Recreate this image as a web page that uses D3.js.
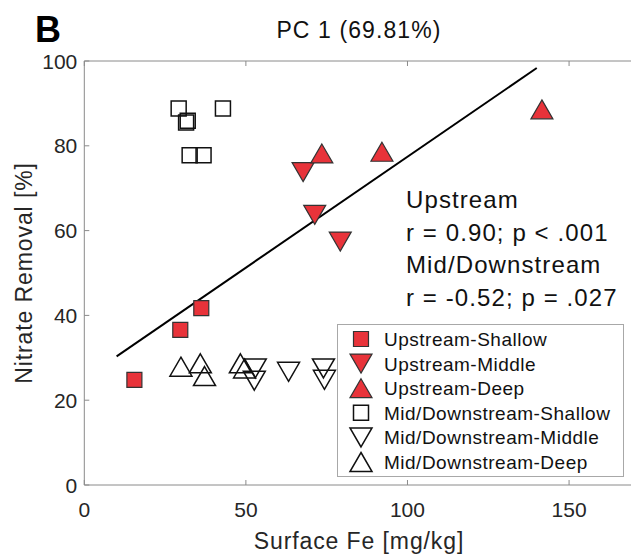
<!DOCTYPE html>
<html>
<head>
<meta charset="utf-8">
<script src="https://cdn.jsdelivr.net/npm/d3@7"></script>
<style>
  html, body { margin: 0; padding: 0; background: #fff; overflow: hidden; }
  svg { display: block; font-family: "Liberation Sans", Arial, Helvetica, sans-serif; }
</style>
</head>
<body>
<svg id="chart" width="631" height="558"></svg>
<script>
// Surface Fe [mg/kg] vs nitrate removal [%], one array of [x, y] pairs per group
const upShallow = [[15.5, 24.8], [29.7, 36.6], [36.2, 41.7]];
const upMiddle  = [[67.7, 73.8], [71.3, 63.7], [79.2, 57.4]];
const upDeep    = [[73.5, 78.2], [92.1, 78.6], [141.6, 88.6]];
const mdShallow = [[29.2, 88.8], [31.5, 85.5], [32.0, 85.9], [42.9, 88.8], [32.6, 77.8], [36.9, 77.8]];
const mdMiddle  = [[52.9, 27.5], [52.6, 24.6], [63.2, 26.7], [74.0, 27.5], [74.3, 24.8]];
const mdDeep    = [[29.9, 27.9], [35.9, 28.7], [37.2, 25.7], [48.3, 28.7], [49.6, 27.5]];

const xTicks = [0, 50, 100, 150];
const yTicks = [0, 20, 40, 60, 80, 100];
const fitRange = [10, 140];

const legendLabels = ["Upstream-Shallow", "Upstream-Middle", "Upstream-Deep",
                      "Mid/Downstream-Shallow", "Mid/Downstream-Middle", "Mid/Downstream-Deep"];
const statLines = ["Upstream", "r = 0.90; p < .001", "Mid/Downstream", "r = -0.52; p = .027"];

const RED = "#e8333a";
const TXT = "#262626";
const AX = "#8a8a8a";

const svg = d3.select("#chart");
const x = d3.scaleLinear().domain([0, 170]).range([84.3, 633.7]);
const y = d3.scaleLinear().domain([0, 100]).range([485, 61]);

// marker path generators centred on (cx, cy)
function squarePath(cx, cy, s) {
  const h = s / 2;
  return `M${cx - h},${cy - h}H${cx + h}V${cy + h}H${cx - h}Z`;
}
function triPath(cx, cy, w, h, up) {
  const hw = w / 2, hh = h / 2;
  return up
    ? `M${cx},${cy - hh}L${cx + hw},${cy + hh}L${cx - hw},${cy + hh}Z`
    : `M${cx},${cy + hh}L${cx + hw},${cy - hh}L${cx - hw},${cy - hh}Z`;
}
const SQ = 15, TW = 22, TH = 19;

// axes frame: bottom, top, left
const g = svg.append("g");
g.append("line").attr("x1", x(0)).attr("x2", x(170)).attr("y1", y(0)).attr("y2", y(0)).attr("stroke", AX);
g.append("line").attr("x1", x(0)).attr("x2", x(170)).attr("y1", y(100)).attr("y2", y(100)).attr("stroke", AX);
g.append("line").attr("x1", x(0)).attr("x2", x(0)).attr("y1", y(0)).attr("y2", y(100)).attr("stroke", AX);

// inward ticks
const TL = 5;
xTicks.forEach(t => {
  g.append("line").attr("x1", x(t)).attr("x2", x(t)).attr("y1", y(0)).attr("y2", y(0) - TL).attr("stroke", AX);
  g.append("line").attr("x1", x(t)).attr("x2", x(t)).attr("y1", y(100)).attr("y2", y(100) + TL).attr("stroke", AX);
  g.append("text").attr("x", x(t)).attr("y", y(0) + 32).attr("text-anchor", "middle")
    .attr("font-size", 21).attr("fill", TXT).text(t);
});
yTicks.forEach(t => {
  g.append("line").attr("x1", x(0)).attr("x2", x(0) + TL).attr("y1", y(t)).attr("y2", y(t)).attr("stroke", AX);
  g.append("text").attr("x", x(0) - 7).attr("y", y(t) + 7.5).attr("text-anchor", "end")
    .attr("font-size", 21).attr("fill", TXT).text(t);
});

// axis titles
svg.append("text").attr("x", (x(0) + x(170)) / 2).attr("y", 549).attr("text-anchor", "middle")
  .attr("font-size", 23).attr("letter-spacing", 0.9).attr("fill", TXT).text("Surface Fe [mg/kg]");
svg.append("text").attr("transform", `translate(32,${(y(0) + y(100)) / 2}) rotate(-90)`)
  .attr("text-anchor", "middle").attr("font-size", 23).attr("letter-spacing", 0.9)
  .attr("fill", TXT).text("Nitrate Removal [%]");

// title and panel letter
svg.append("text").attr("x", (x(0) + x(170)) / 2).attr("y", 38).attr("text-anchor", "middle")
  .attr("font-size", 23).attr("letter-spacing", 1.1).attr("fill", "#111").text("PC 1 (69.81%)");
svg.append("text").attr("x", 35).attr("y", 42).attr("font-size", 36).attr("font-weight", "bold")
  .attr("fill", "#000").text("B");

// least-squares fit through the upstream samples
const upAll = upShallow.concat(upMiddle, upDeep);
const mx = d3.mean(upAll, d => d[0]), my = d3.mean(upAll, d => d[1]);
const slope = d3.sum(upAll, d => (d[0] - mx) * (d[1] - my)) / d3.sum(upAll, d => (d[0] - mx) ** 2);
const icpt = my - slope * mx;
svg.append("line")
  .attr("x1", x(fitRange[0])).attr("y1", y(icpt + slope * fitRange[0]))
  .attr("x2", x(fitRange[1])).attr("y2", y(icpt + slope * fitRange[1]))
  .attr("stroke", "#000").attr("stroke-width", 2);

// open markers (mid/downstream)
const pts = svg.append("g");
mdShallow.forEach(d => pts.append("path").attr("d", squarePath(x(d[0]), y(d[1]), SQ))
  .attr("fill", "none").attr("stroke", "#111").attr("stroke-width", 1.5));
mdMiddle.forEach(d => pts.append("path").attr("d", triPath(x(d[0]), y(d[1]), TW, TH, false))
  .attr("fill", "none").attr("stroke", "#111").attr("stroke-width", 1.5));
mdDeep.forEach(d => pts.append("path").attr("d", triPath(x(d[0]), y(d[1]), TW, TH, true))
  .attr("fill", "none").attr("stroke", "#111").attr("stroke-width", 1.5));

// filled markers (upstream)
upShallow.forEach(d => pts.append("path").attr("d", squarePath(x(d[0]), y(d[1]), SQ))
  .attr("fill", RED).attr("stroke", "#333").attr("stroke-width", 1.2));
upMiddle.forEach(d => pts.append("path").attr("d", triPath(x(d[0]), y(d[1]), TW, TH, false))
  .attr("fill", RED).attr("stroke", "#333").attr("stroke-width", 1.2));
upDeep.forEach(d => pts.append("path").attr("d", triPath(x(d[0]), y(d[1]), TW, TH, true))
  .attr("fill", RED).attr("stroke", "#333").attr("stroke-width", 1.2));

// correlation statistics
statLines.forEach((s, i) => {
  svg.append("text").attr("x", 406).attr("y", 208 + i * 32.5).attr("font-size", 24)
    .attr("letter-spacing", 1.1).attr("fill", "#111").text(s);
});

// legend
const lg = svg.append("g");
lg.append("rect").attr("x", 337.5).attr("y", 324.5).attr("width", 286).attr("height", 152)
  .attr("fill", "#fff").attr("stroke", "#a8a8a8");
const rowY = i => 339 + i * 24.6;
const mkX = 361;
lg.append("path").attr("d", squarePath(mkX, rowY(0), SQ)).attr("fill", RED).attr("stroke", "#333").attr("stroke-width", 1.2);
lg.append("path").attr("d", triPath(mkX, rowY(1), TW, TH, false)).attr("fill", RED).attr("stroke", "#333").attr("stroke-width", 1.2);
lg.append("path").attr("d", triPath(mkX, rowY(2), TW, TH, true)).attr("fill", RED).attr("stroke", "#333").attr("stroke-width", 1.2);
lg.append("path").attr("d", squarePath(mkX, rowY(3), SQ)).attr("fill", "none").attr("stroke", "#111").attr("stroke-width", 1.5);
lg.append("path").attr("d", triPath(mkX, rowY(4), TW, TH, false)).attr("fill", "none").attr("stroke", "#111").attr("stroke-width", 1.5);
lg.append("path").attr("d", triPath(mkX, rowY(5), TW, TH, true)).attr("fill", "none").attr("stroke", "#111").attr("stroke-width", 1.5);
legendLabels.forEach((s, i) => {
  lg.append("text").attr("x", 384).attr("y", rowY(i) + 7).attr("font-size", 19)
    .attr("letter-spacing", 0.5).attr("fill", "#111").text(s);
});
</script>
</body>
</html>
